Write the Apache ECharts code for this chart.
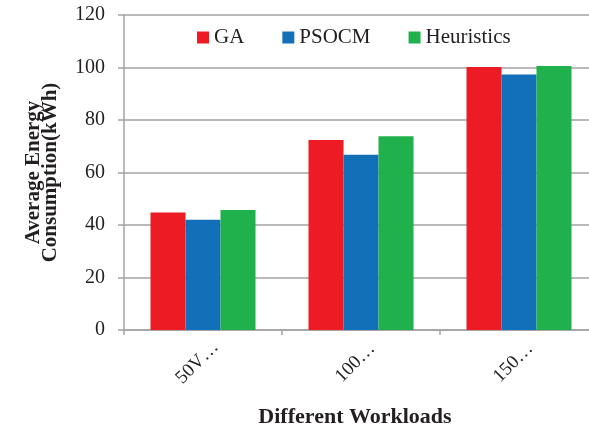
<!DOCTYPE html>
<html>
<head>
<meta charset="utf-8">
<script src="https://cdn.jsdelivr.net/npm/echarts@6/dist/echarts.min.js"></script>
<style>
  html, body { margin: 0; padding: 0; background: #fff; }
  #chart { width: 589px; height: 427px; }
</style>
</head>
<body>
<div id="chart"></div>
<script>
// Workload categories (labels as printed on the axis)
const categories = ['50V…', '100…', '150…'];
// Average energy consumption (kWh) per algorithm
const gaValues = [44.8, 72.4, 100.2];
const psocmValues = [42.0, 66.8, 97.3];
const heuristicsValues = [45.7, 73.8, 100.6];
// Y axis range
const yMin = 0, yMax = 120, yStep = 20;

const serif = '"Liberation Serif", "Times New Roman", serif';
const textColor = '#231f20';
const lineColor = '#a3a3a3';

const chart = echarts.init(document.getElementById('chart'), null, { renderer: 'canvas' });

function barSeries(name, data, color) {
  return {
    name: name,
    type: 'bar',
    data: data,
    barWidth: 35,
    barGap: '0%',
    itemStyle: { color: color },
    emphasis: { disabled: true }
  };
}

chart.setOption({
  animation: false,
  textStyle: { fontFamily: serif },
  legend: {
    left: 197,
    top: 27,
    padding: 0,
    itemWidth: 12,
    itemHeight: 12,
    itemGap: 38,
    icon: 'rect',
    textStyle: { fontFamily: serif, fontSize: 21, color: textColor },
    data: ['GA', 'PSOCM', 'Heuristics']
  },
  grid: {
    left: 124, top: 15, width: 474, height: 315,
    containLabel: false,
    outerBoundsMode: 'none'
  },
  xAxis: {
    type: 'category',
    data: categories,
    name: 'Different Workloads',
    nameLocation: 'middle',
    nameGap: 76,
    nameTextStyle: {
      fontFamily: serif, fontSize: 22, fontWeight: 'bold', color: textColor,
      padding: [0, 12, 0, 0]
    },
    axisLine: { lineStyle: { color: lineColor, width: 1.5 } },
    axisTick: { show: true, length: 5, lineStyle: { color: lineColor, width: 1.5 } },
    axisLabel: {
      interval: 0,
      rotate: 45,
      align: 'center',
      verticalAlign: 'middle',
      margin: 27,
      fontFamily: serif,
      fontSize: 19,
      color: textColor,
      // trailing spacer nudges the visible text down-left along its baseline
      formatter: v => v + '{s| }',
      rich: { s: { width: 16, fontSize: 19 } }
    }
  },
  yAxis: {
    type: 'value',
    min: yMin,
    max: yMax,
    interval: yStep,
    name: 'Average Energy\nConsumption(kWh)',
    nameLocation: 'middle',
    nameRotate: 90,
    nameGap: 65,
    nameTextStyle: { fontFamily: serif, fontSize: 21, fontWeight: 'bold', color: textColor, lineHeight: 17, align: 'center' },
    axisLine: { show: true, lineStyle: { color: lineColor, width: 1.5 } },
    axisTick: { show: true, inside: false, length: 6, lineStyle: { color: lineColor, width: 1.5 } },
    axisLabel: { margin: 19, fontFamily: serif, fontSize: 20, color: textColor },
    splitLine: { show: true, lineStyle: { color: lineColor, width: 1.5 } }
  },
  series: [
    barSeries('GA', gaValues, '#ed1c24'),
    barSeries('PSOCM', psocmValues, '#1170b8'),
    barSeries('Heuristics', heuristicsValues, '#21b14c')
  ]
});
</script>
</body>
</html>
